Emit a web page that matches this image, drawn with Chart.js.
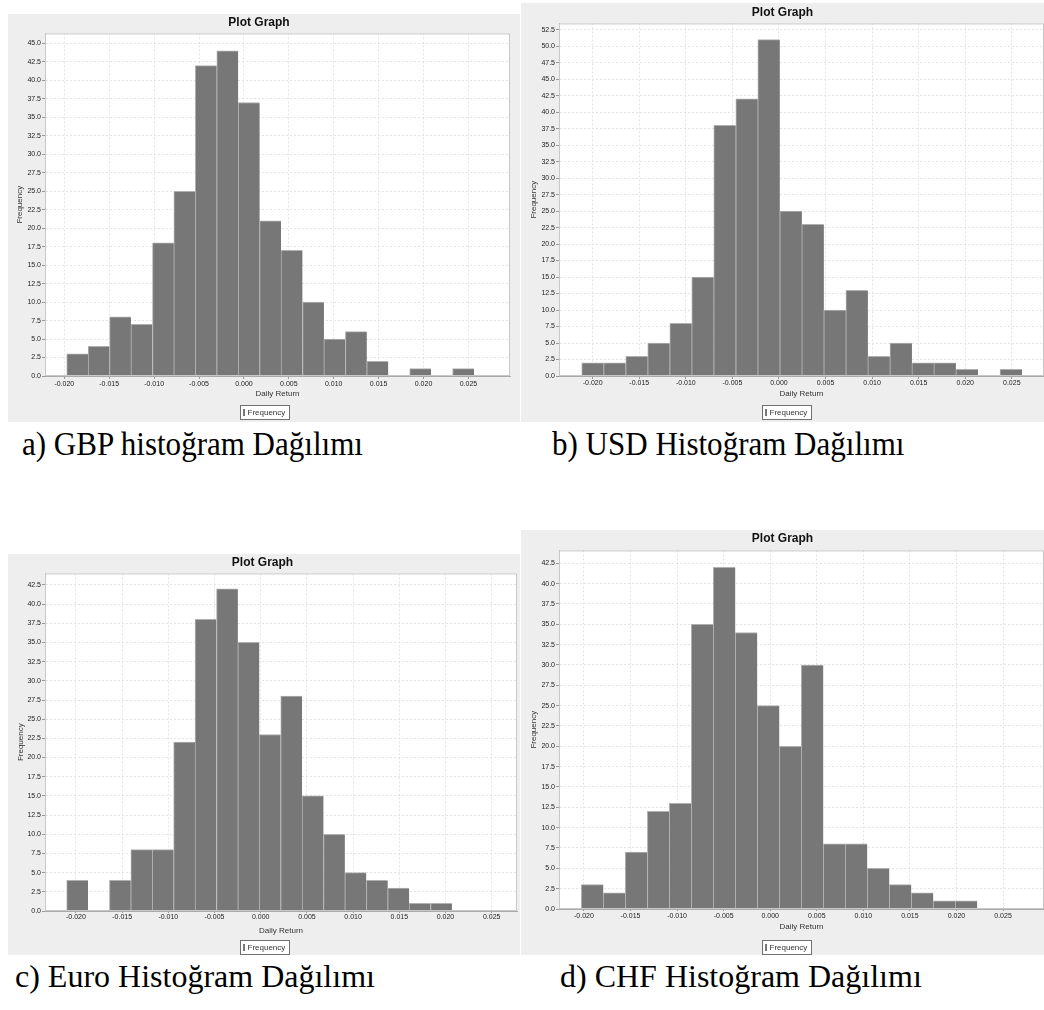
<!DOCTYPE html>
<html>
<head>
<meta charset="utf-8">
<title>Histoğram Dağılımı</title>
<script src="https://cdn.jsdelivr.net/npm/chart.js@4.4.1/dist/chart.umd.min.js"></script>
<style>
  html, body { margin: 0; padding: 0; background: #fff; width: 1044px; height: 1010px; overflow: hidden; }
  canvas { position: absolute; background: #eeeeee; }
  .cap { position: absolute; font-family: 'Liberation Serif', 'Times New Roman', serif; font-size: 32px; line-height: 32px; color: #000; white-space: nowrap; }
  .top { font-size: 33px; line-height: 33px; transform: scaleX(0.94); transform-origin: left center; }
</style>
</head>
<body>
<canvas id="gbp" width="512" height="408" style="left:8px;top:14px"></canvas>
<canvas id="usd" width="531" height="419" style="left:521px;top:3px"></canvas>
<canvas id="eur" width="512" height="401" style="left:8px;top:554px"></canvas>
<canvas id="chf" width="531" height="425" style="left:521px;top:530px"></canvas>

<div class="cap top" style="left:22px;top:428px">a) GBP histoğram Dağılımı</div>
<div class="cap top" style="left:552px;top:428px">b) USD Histoğram Dağılımı</div>
<div class="cap" style="left:15px;top:960px">c) Euro Histoğram Dağılımı</div>
<div class="cap" style="left:560px;top:960px">d) CHF Histoğram Dağılımı</div>

<script>
// bin centres (daily return) and counts
const gbpBins = [-0.01854, -0.01615, -0.01377, -0.01138, -0.00899, -0.00661, -0.00422, -0.00183, 0.00056, 0.00294,
                 0.00533, 0.00772, 0.01010, 0.01249, 0.01488, 0.01727, 0.01965, 0.02204, 0.02443];
const gbpFreq = [3, 4, 8, 7, 18, 25, 42, 44, 37, 21, 17, 10, 5, 6, 2, 0, 1, 0, 1];

const usdBins = [-0.02000, -0.01764, -0.01527, -0.01291, -0.01054, -0.00818, -0.00582, -0.00345, -0.00109, 0.00128,
                 0.00364, 0.00600, 0.00837, 0.01073, 0.01310, 0.01546, 0.01782, 0.02019, 0.02255, 0.02492];
const usdFreq = [2, 2, 3, 5, 8, 15, 38, 42, 51, 25, 23, 10, 13, 3, 5, 2, 2, 1, 0, 1];

const eurBins = [-0.01985, -0.01753, -0.01522, -0.01290, -0.01058, -0.00827, -0.00595, -0.00363, -0.00131, 0.00100,
                 0.00332, 0.00564, 0.00795, 0.01027, 0.01259, 0.01491, 0.01722, 0.01954];
const eurFreq = [4, 0, 4, 8, 8, 22, 38, 42, 35, 23, 28, 15, 10, 5, 4, 3, 1, 1];

const chfBins = [-0.01910, -0.01674, -0.01438, -0.01201, -0.00965, -0.00729, -0.00493, -0.00257, -0.00020, 0.00216,
                 0.00452, 0.00688, 0.00924, 0.01161, 0.01397, 0.01633, 0.01869, 0.02105];
const chfFreq = [3, 2, 7, 12, 13, 35, 42, 34, 25, 20, 30, 8, 8, 5, 3, 2, 1, 1];

const xStep = 0.005;
const yStep = 2.5;
const titleText = 'Plot Graph';
const xTitle = 'Daily Return';
const yTitle = 'Frequency';
const seriesName = 'Frequency';

const FONT = "'Liberation Sans', Arial, sans-serif";

// white plot background, plot outline and the boxed legend under the axis
const frame = {
  id: 'frame',
  beforeDraw(chart) {
    const {ctx, chartArea: a} = chart;
    ctx.save();
    ctx.fillStyle = '#ffffff';
    ctx.fillRect(a.left, a.top, a.right - a.left, a.bottom - a.top);
    ctx.restore();
  },
  afterDraw(chart, args, opts) {
    const {ctx, chartArea: a} = chart;
    ctx.save();
    ctx.strokeStyle = '#c8c8c8';
    ctx.lineWidth = 1;
    ctx.strokeRect(a.left + 0.5, a.top + 0.5, a.right - a.left - 1, a.bottom - a.top - 1);

    const label = chart.data.datasets[0].label;
    ctx.font = '8px ' + FONT;
    const w = Math.round(ctx.measureText(label).width) + 11;
    const h = 14;
    const x = Math.round(chart.width / 2 - w / 2) + 0.5;
    const y = Math.round(opts.legendY - h / 2) + 0.5;
    ctx.fillStyle = '#ffffff';
    ctx.fillRect(x, y, w, h);
    ctx.strokeStyle = '#707070';
    ctx.strokeRect(x, y, w, h);
    ctx.fillStyle = '#777777';
    ctx.fillRect(x + 2.5, y + 3.5, 2, 7);
    ctx.fillStyle = '#333';
    ctx.textBaseline = 'middle';
    ctx.fillText(label, x + 7, opts.legendY + 0.5);
    ctx.restore();
  }
};

function histogram(id, bins, freq, p) {
  return new Chart(document.getElementById(id), {
    type: 'bar',
    data: {
      datasets: [{
        label: seriesName,
        data: bins.map((x, i) => ({x: x, y: freq[i]})),
        backgroundColor: '#777777',
        borderColor: '#b0b0b0',
        borderWidth: {left: 1, right: 0, top: 1, bottom: 0},
        borderSkipped: false,
        barPercentage: 1,
        categoryPercentage: 1
      }]
    },
    options: {
      responsive: false,
      animation: false,
      events: [],
      layout: {padding: {left: 0, right: p.padRight, top: 0, bottom: p.padBottom}},
      plugins: {
        legend: {display: false},
        tooltip: {enabled: false},
        title: {
          display: true, text: titleText, color: '#111',
          font: {family: FONT, size: 12, weight: 'bold'}, padding: p.titlePad
        },
        frame: {legendY: p.legendY}
      },
      scales: {
        x: {
          type: 'linear', min: p.xMin, max: p.xMax, offset: false,
          afterFit: s => { s.height = p.xHeight; },
          ticks: {
            stepSize: xStep, includeBounds: false, autoSkip: false, maxRotation: 0,
            padding: p.xTickPad, color: '#222', font: {family: FONT, size: 7},
            callback: v => (Math.abs(v) < 1e-9 ? 0 : v).toFixed(3)
          },
          grid: {offset: false, color: '#e4e4e4', tickLength: p.tickLen, tickColor: '#999'},
          border: {display: true, color: '#aaaaaa', dash: [2, 2]},
          title: {display: true, text: xTitle, color: '#333', font: {family: FONT, size: 8}, padding: {top: 0, bottom: p.xTitlePad}}
        },
        y: {
          min: 0, max: p.yMax,
          afterFit: s => { s.width = p.yWidth; },
          ticks: {
            stepSize: yStep, includeBounds: false, padding: 1, color: '#222',
            font: {family: FONT, size: 7}, callback: v => v.toFixed(1)
          },
          grid: {color: '#e4e4e4', tickLength: 3, tickColor: '#999'},
          border: {display: true, color: '#aaaaaa', dash: [2, 2]},
          title: {display: true, text: yTitle, color: '#333', font: {family: FONT, size: 8}, padding: {top: p.yTitlePad, bottom: 0}}
        }
      }
    },
    plugins: [frame]
  });
}

histogram('gbp', gbpBins, gbpFreq, {
  xMin: -0.02215, xMax: 0.02963, yMax: 46.35,
  padRight: 10, padBottom: 22, titlePad: {top: 1, bottom: 4},
  xHeight: 24, tickLen: 3, xTickPad: 1, xTitlePad: 1,
  yWidth: 37, yTitlePad: 7, legendY: 398
});

histogram('usd', usdBins, usdFreq, {
  xMin: -0.02362, xMax: 0.02846, yMax: 53.45,
  padRight: 8, padBottom: 22, titlePad: {top: 2, bottom: 4},
  xHeight: 24, tickLen: 3, xTickPad: 0, xTitlePad: 1,
  yWidth: 38, yTitlePad: 7.5, legendY: 409
});

histogram('eur', eurBins, eurFreq, {
  xMin: -0.02335, xMax: 0.02774, yMax: 44.0,
  padRight: 3, padBottom: 18, titlePad: {top: 1, bottom: 4},
  xHeight: 26, tickLen: 2, xTickPad: 0, xTitlePad: 1.5,
  yWidth: 37, yTitlePad: 8, legendY: 393
});

histogram('chf', chfBins, chfFreq, {
  xMin: -0.02268, xMax: 0.0294, yMax: 44.09,
  padRight: 8, padBottom: 22, titlePad: {top: 1, bottom: 5},
  xHeight: 24, tickLen: 2, xTickPad: 1, xTitlePad: 1,
  yWidth: 38, yTitlePad: 7.5, legendY: 417
});
</script>
</body>
</html>
